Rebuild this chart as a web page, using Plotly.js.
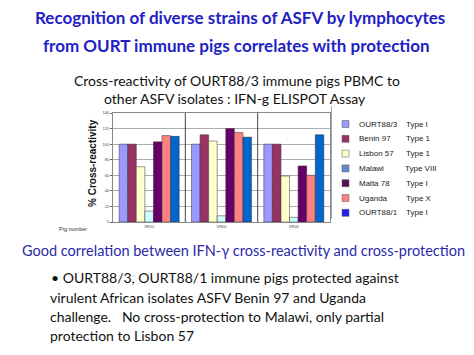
<!DOCTYPE html>
<html>
<head>
<meta charset="utf-8">
<script src="https://cdn.plot.ly/plotly-3.0.1.min.js"></script>
<style>html,body{margin:0;padding:0;background:#fff;}#chart{width:474px;height:355px;}</style>
</head>
<body>
<div id="chart"></div>
<script>
const pigs = ["VR01", "VR00", "VR02"];
const strains = ["OURT88/3", "Benin 97", "Lisbon 57", "Malawi", "Malta 78", "Uganda", "OURT88/1"];
const types = ["Type I", "Type 1", "Type 1", "Type VIII", "Type I", "Type X", "Type I"];
const ourt883 = [100, 100, 100];
const benin97 = [100, 112, 100];
const lisbon57 = [71, 104, 59];
const malawi = [14, 8, 6];
const malta78 = [103, 120, 72];
const uganda = [111, 115, 60];
const ourt881 = [110, 109, 112];
const seriesValues = [ourt883, benin97, lisbon57, malawi, malta78, uganda, ourt881];
const barColors = ["#9999ff", "#993366", "#ffffcc", "#ccffff", "#660066", "#ff8080", "#0066cc"];
const legendColors = ["#9999ff", "#993366", "#ffffcc", "#6688cc", "#551155", "#ff8080", "#2222ee"];

// plot area pixel geometry
const L = 113, R = 330, T = 113, B = 222, W = 474, H = 355;
const px = x => (x - L) / (R - L);
const py = y => (B - y) / (B - T);

const data = strains.map((s, i) => ({
  type: "bar",
  name: s,
  x: pigs,
  y: seriesValues[i],
  marker: {color: barColors[i], line: {color: "#333", width: 0.5}},
  showlegend: false,
  hoverinfo: "x+y+name"
}));

const slideFont = "Lato, 'Open Sans', sans-serif";
const annotations = [
  {text: "<b>Recognition of diverse strains of ASFV by lymphocytes</b>", x: px(240), y: py(18), font: {family: slideFont, size: 17, color: "#2121c4"}},
  {text: "<b>from OURT immune pigs correlates with protection</b>", x: px(236), y: py(46), font: {family: slideFont, size: 17, color: "#2121c4"}},
  {text: "Cross-reactivity of OURT88/3 immune pigs PBMC to", x: px(237), y: py(80), font: {family: slideFont, size: 14, color: "#111"}},
  {text: "other ASFV isolates : IFN-g ELISPOT Assay", x: px(235), y: py(98), font: {family: slideFont, size: 14, color: "#111"}},
  {text: "Good correlation between IFN-γ cross-reactivity and cross-protection", x: px(243), y: py(250), font: {family: slideFont, size: 14.5, color: "#2a2aa8"}},
  {text: "• OURT88/3, OURT88/1 immune pigs protected against", x: px(49), y: py(277), xanchor: "left", font: {family: slideFont, size: 14, color: "#111"}},
  {text: "virulent African isolates ASFV Benin 97 and Uganda", x: px(48), y: py(297), xanchor: "left", font: {family: slideFont, size: 14, color: "#111"}},
  {text: "challenge.   No cross-protection to Malawi, only partial", x: px(48), y: py(316), xanchor: "left", font: {family: slideFont, size: 14, color: "#111"}},
  {text: "protection to Lisbon 57", x: px(48), y: py(335), xanchor: "left", font: {family: slideFont, size: 14, color: "#111"}},
  {text: "<b>% Cross-reactivity</b>", x: px(92), y: py(163), textangle: -90, font: {family: "Liberation Sans, Arial", size: 10, color: "#111"}},
  {text: "Pig number", x: px(57), y: py(229), xanchor: "left", font: {family: "Liberation Sans, Arial", size: 5.5, color: "#333"}}
].map(a => Object.assign({xref: "paper", yref: "paper", showarrow: false, xanchor: "center", yanchor: "middle"}, a));

const shapes = [
  {type: "line", xref: "x", yref: "paper", x0: 0.5, x1: 0.5, y0: 0, y1: 1, line: {color: "#444", width: 1}},
  {type: "line", xref: "x", yref: "paper", x0: 1.5, x1: 1.5, y0: 0, y1: 1, line: {color: "#444", width: 1}},
  {type: "line", xref: "paper", yref: "paper", x0: px(331.5), x1: px(331.5), y0: py(106), y1: py(219), line: {color: "#aaa", width: 1}}
];

// manual legend built from arrays
const legY0 = 124, legStep = 14.8;
strains.forEach((s, i) => {
  const cy = legY0 + i * legStep;
  shapes.push({type: "rect", xref: "paper", yref: "paper", x0: px(342), x1: px(349), y0: py(cy + 3.5), y1: py(cy - 3.5),
    fillcolor: legendColors[i], line: {color: "#555", width: 0.5}});
  annotations.push({xref: "paper", yref: "paper", showarrow: false, x: px(357), y: py(cy), xanchor: "left", yanchor: "middle",
    text: s, font: {family: "Liberation Sans, Arial", size: 8, color: "#222"}});
  annotations.push({xref: "paper", yref: "paper", showarrow: false, x: px(i === 3 ? 402.5 : 404), y: py(cy), xanchor: "left", yanchor: "middle",
    text: types[i], font: {family: "Liberation Sans, Arial", size: 8, color: "#222"}});
});

const layout = {
  width: W, height: H,
  margin: {l: L, r: W - R, t: T, b: H - B, pad: 0},
  paper_bgcolor: "#fff", plot_bgcolor: "#fff",
  barmode: "group", bargap: 0.17, bargroupgap: 0,
  showlegend: false,
  font: {family: "Liberation Sans, Arial", color: "#333"},
  xaxis: {type: "category", showline: true, mirror: true, linecolor: "#888", linewidth: 1,
    tickfont: {size: 4, color: "#444"}, ticks: "", showgrid: false, fixedrange: true},
  yaxis: {range: [0, 140], dtick: 20, showline: true, mirror: true, linecolor: "#888", linewidth: 1,
    ticks: "outside", ticklen: 2, tickcolor: "#666", tickfont: {size: 4, color: "#444"},
    showgrid: true, gridcolor: "#999", gridwidth: 0.8, zeroline: false, fixedrange: true},
  annotations: annotations,
  shapes: shapes
};

Plotly.newPlot("chart", data, layout, {displayModeBar: false, staticPlot: true});
</script>
</body>
</html>
